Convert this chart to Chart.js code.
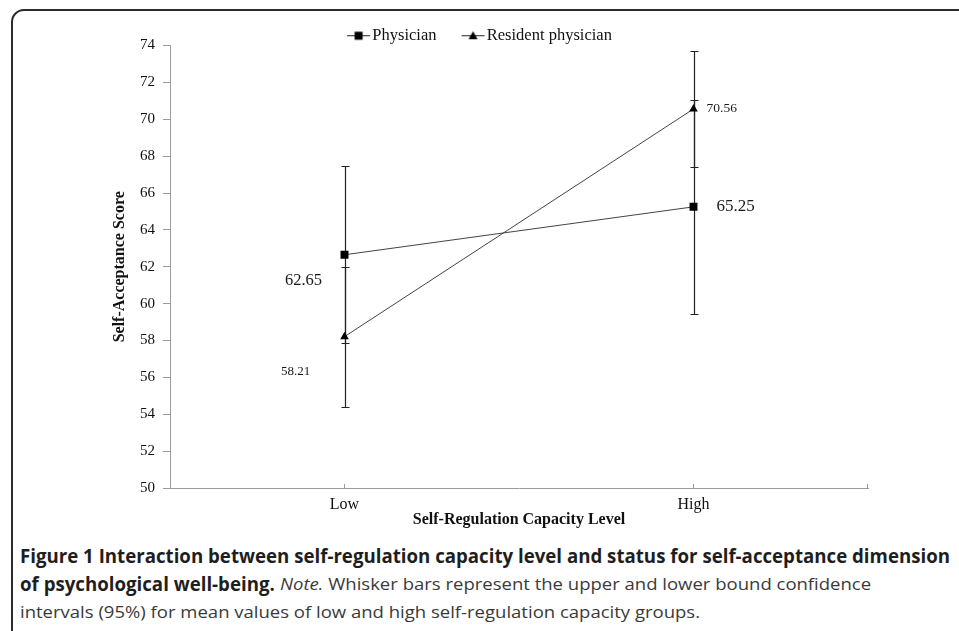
<!DOCTYPE html>
<html>
<head>
<meta charset="utf-8">
<script src="https://cdn.jsdelivr.net/npm/chart.js@4.4.0/dist/chart.umd.min.js"></script>
<style>
  html, body { margin: 0; padding: 0; background: #fff; }
  body { width: 959px; height: 631px; position: relative; overflow: hidden; }
  #frame {
    position: absolute; left: 11px; top: 9px; width: 1000px; height: 700px;
    border: 2px solid #2b2b2b; border-radius: 13px 0 0 0; box-sizing: border-box;
  }
  #wrap { position: absolute; left: 0; top: 0; width: 959px; height: 535px; }
  #caption { position: absolute; left: 20px; top: 542px; font-family: "Open Sans", "DejaVu Sans Condensed", sans-serif; }
  #caption .seg {
    position: absolute; left: 0; white-space: nowrap; transform-origin: 0 50%;
    font-size: 17px; line-height: 28px; color: #3a3a3a;
  }
  #caption .seg.b { font-size: 19px; font-weight: 700; color: #1e1e1e; }
</style>
</head>
<body>
<div id="frame"></div>
<div id="wrap"><canvas id="chart"></canvas></div>
<div id="caption">
  <div class="seg b" id="c1" style="top:0">Figure 1 Interaction between self-regulation capacity level and status for self-acceptance dimension</div>
  <div class="seg b" id="c2a" style="top:28px">of psychological well-being.</div>
  <div class="seg" id="c2b" style="top:28px"><i>Note.</i> Whisker bars represent the upper and lower bound confidence</div>
  <div class="seg" id="c3" style="top:56px">intervals (95%) for mean values of low and high self-regulation capacity groups.</div>
</div>
<script>
// Daten
const categories = ['Low', 'High'];
const physicianMean = [62.65, 65.25];
const physicianLower = [57.85, 59.45];
const physicianUpper = [67.45, 71.05];
const residentMean = [58.21, 70.56];
const residentLower = [54.4, 67.4];
const residentUpper = [62.0, 73.7];
const yMin = 50, yMax = 74, yStep = 2;

const serif = '"Liberation Serif", "Times New Roman", serif';

// Bildunterschrift: schmale Schrift nachbilden (fett auf Zeilenbreite, normal gemeinsam)
(function fitCaption() {
    const w = id => document.getElementById(id).getBoundingClientRect().width;
    const sBold = 930 / w('c1');
    const sNorm = 680 / w('c3');
    ['c1', 'c2a'].forEach(id => document.getElementById(id).style.transform = 'scaleX(' + sBold + ')');
    ['c2b', 'c3'].forEach(id => document.getElementById(id).style.transform = 'scaleX(' + sNorm + ')');
    document.getElementById('c2b').style.left = (w('c2a') + 5) + 'px';
})();

// Legenden-Symbol: Linie mit Marker (rechts im Feld, damit Abstand passt)
function legendIcon(shape) {
    const c = document.createElement('canvas');
    c.width = 64; c.height = 12;
    const g = c.getContext('2d');
    g.strokeStyle = '#222';
    g.lineWidth = 1;
    g.beginPath(); g.moveTo(31, 6.5); g.lineTo(54, 6.5); g.stroke();
    g.fillStyle = '#000';
    g.beginPath();
    if (shape === 'rect') {
        g.rect(38.5, 2.5, 8, 8);
    } else {
        g.moveTo(42.5, 2); g.lineTo(47, 10); g.lineTo(38, 10); g.closePath();
    }
    g.fill();
    return c;
}

// Fehlerbalken
const errorBars = {
    id: 'errorBars',
    beforeDatasetsDraw(chart) {
        const { ctx, scales: { x, y } } = chart;
        ctx.save();
        ctx.strokeStyle = '#222';
        ctx.lineWidth = 1.2;
        chart.data.datasets.forEach(ds => {
            ds.lower.forEach((lo, i) => {
                const px = Math.round(x.getPixelForValue(i)) + 0.5;
                const top = Math.round(y.getPixelForValue(ds.upper[i])) + 0.5;
                const bot = Math.round(y.getPixelForValue(lo)) + 0.5;
                ctx.beginPath();
                ctx.moveTo(px, top); ctx.lineTo(px, bot);
                ctx.moveTo(px - 4, top); ctx.lineTo(px + 4, top);
                ctx.moveTo(px - 4, bot); ctx.lineTo(px + 4, bot);
                ctx.stroke();
            });
        });
        ctx.restore();
    }
};

// Wertebeschriftung neben den Punkten
const valueLabels = {
    id: 'valueLabels',
    afterDatasetsDraw(chart, args, opts) {
        const { ctx } = chart;
        ctx.save();
        ctx.fillStyle = '#1a1a1a';
        ctx.textBaseline = 'middle';
        chart.data.datasets.forEach((ds, di) => {
            const meta = chart.getDatasetMeta(di);
            meta.data.forEach((pt, i) => {
                const o = opts.offsets[di][i];
                ctx.font = o.size + 'px ' + serif;
                ctx.textAlign = o.align;
                ctx.fillText(ds.data[i].toFixed(2), pt.x + o.dx, pt.y + o.dy);
            });
        });
        ctx.restore();
    }
};

// kleine Striche nach innen auf der x-Achse
const xInnerTicks = {
    id: 'xInnerTicks',
    afterDraw(chart) {
        const { ctx, scales: { x } } = chart;
        const yb = x.top;
        ctx.save();
        ctx.strokeStyle = '#9a9a9a';
        ctx.lineWidth = 1;
        const xs = categories.map((c, i) => x.getPixelForValue(i));
        xs.push(x.right);
        ctx.beginPath();
        xs.forEach(px => {
            const p = Math.round(px) - 0.5;
            ctx.moveTo(p, yb); ctx.lineTo(p, yb - 4);
        });
        ctx.stroke();
        ctx.restore();
    }
};

// Legende etwas kompakter
const legendFit = {
    id: 'legendFit',
    beforeLayout(chart) {
        const lg = chart.legend;
        if (lg && !lg._patched) {
            const orig = lg.fit;
            lg.fit = function () { orig.call(this); this.height -= 8; };
            lg._patched = true;
        }
    }
};

const ctx = document.getElementById('chart');
new Chart(ctx, {
    type: 'line',
    data: {
        labels: categories,
        datasets: [
            {
                label: 'Physician',
                data: physicianMean,
                lower: physicianLower,
                upper: physicianUpper,
                borderColor: '#444',
                borderWidth: 1,
                pointStyle: 'rect',
                pointRadius: 5.6,
                pointBackgroundColor: '#000',
                pointBorderWidth: 0,
                fill: false
            },
            {
                label: 'Resident physician',
                data: residentMean,
                lower: residentLower,
                upper: residentUpper,
                borderColor: '#444',
                borderWidth: 1,
                pointStyle: 'triangle',
                pointRadius: 5,
                pointBackgroundColor: '#000',
                pointBorderWidth: 0,
                fill: false
            }
        ]
    },
    options: {
        responsive: true,
        maintainAspectRatio: false,
        animation: false,
        devicePixelRatio: 1,
        layout: { padding: { left: 76, right: 91, top: 17, bottom: 0 } },
        plugins: {
            legend: {
                position: 'top',
                labels: {
                    usePointStyle: true,
                    pointStyleWidth: 32,
                    boxHeight: 12,
                    padding: 10,
                    color: '#111',
                    font: { family: serif, size: 16.5 },
                    generateLabels(chart) {
                        return chart.data.datasets.map((ds, i) => ({
                            text: ds.label,
                            pointStyle: legendIcon(i === 0 ? 'rect' : 'triangle'),
                            fillStyle: '#000',
                            strokeStyle: '#000',
                            lineWidth: 0,
                            fontColor: '#111',
                            hidden: false,
                            datasetIndex: i
                        }));
                    }
                }
            },
            tooltip: { enabled: false },
            valueLabels: {
                offsets: [
                    [{ dx: -41, dy: 26, size: 16.5, align: 'center' }, { dx: 23, dy: 0, size: 17, align: 'left' }],
                    [{ dx: -49, dy: 35, size: 13, align: 'center' }, { dx: 13, dy: 0, size: 13.5, align: 'left' }]
                ]
            }
        },
        scales: {
            x: {
                offset: true,
                grid: { display: false, drawTicks: false },
                border: { display: true, color: '#9a9a9a', width: 1 },
                ticks: { color: '#111', padding: 7, font: { family: serif, size: 16 } },
                title: {
                    display: true,
                    text: 'Self-Regulation Capacity Level',
                    color: '#111',
                    font: { family: serif, size: 16, weight: 'bold' },
                    padding: { top: 0, bottom: 6 }
                },
                afterFit(s) { s.height = 47; }
            },
            y: {
                min: yMin,
                max: yMax,
                ticks: {
                    stepSize: yStep,
                    color: '#111',
                    padding: 8,
                    font: { family: serif, size: 15 }
                },
                grid: {
                    display: true,
                    drawOnChartArea: false,
                    drawTicks: true,
                    tickLength: 7,
                    color: '#9a9a9a'
                },
                border: { display: true, color: '#9a9a9a', width: 1 },
                title: {
                    display: true,
                    text: 'Self-Acceptance Score',
                    color: '#111',
                    font: { family: serif, size: 16, weight: 'bold' },
                    padding: { top: 34, bottom: 0 }
                },
                afterFit(s) { s.width = 94; }
            }
        }
    },
    plugins: [errorBars, valueLabels, xInnerTicks, legendFit]
});
</script>
</body>
</html>
